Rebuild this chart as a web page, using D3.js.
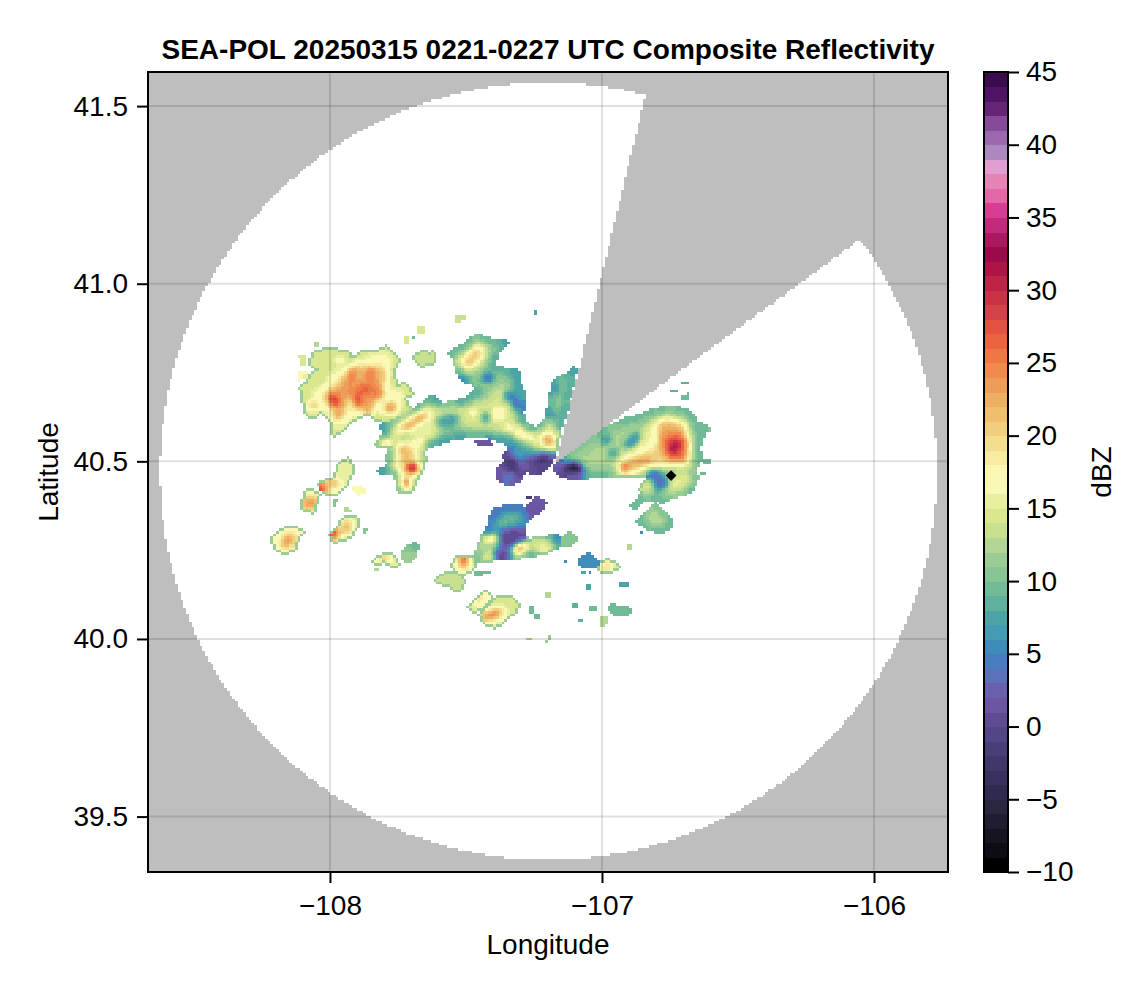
<!DOCTYPE html>
<html>
<head>
<meta charset="utf-8">
<script src="https://cdn.jsdelivr.net/npm/d3@7"></script>
<style>
  html, body { margin: 0; padding: 0; background: #fff; }
  text { font-family: "Liberation Sans", Arial, sans-serif; fill: #000; }
</style>
</head>
<body>
<div id="chart"></div>
<script>
const lonTicks = [-108, -107, -106];
const latTicks = [39.5, 40, 40.5, 41, 41.5];
const dbzTicks = [-10, -5, 0, 5, 10, 15, 20, 25, 30, 35, 40, 45];
const lonDomain = [-108.669, -105.728];
const latDomain = [39.344, 41.596];
const dbzDomain = [-10, 45];

// one colour per 1 dBZ bin, starting at -10
const binColors = [
  '#000000', '#0d0c14', '#151420', '#201d30', '#2a2640', '#302a4e', '#3a3160', '#423768', '#4b3e78', '#534586',
  '#5e4b92', '#6b56a2', '#6a60ae', '#5b71ba', '#4a7dbf', '#3f8cbb', '#449bb2', '#4da4a6', '#5fb09c', '#70ba97',
  '#87c595', '#9ccc95', '#b2d794', '#c8e08f', '#dbe78f', '#e8efa0', '#faf8b5', '#fbf8b4', '#f6eba0', '#f2dd90',
  '#f0ce7e', '#f0bf6e', '#edaf63', '#ee9d58', '#f28a4d', '#ee7845', '#ea643f', '#e25342', '#d5434a', '#c93346',
  '#bd2347', '#ad1545', '#9b0a4b', '#aa1862', '#c42a7c', '#d53e92', '#e268a8', '#e484b4', '#e09fd0', '#ac88bf',
  '#9c69ae', '#854a9a', '#662476', '#4f1466', '#3c0a4e'
];

// radar coverage, degrees
const coverageCenter = [-107.197, 40.472];
const coverageRadius = [1.428, 1.0936];
const blockedSector = [[-107.169, 40.496], [-106.776, 41.732], [-105.837, 41.246]];
const siteMarker = [-106.746, 40.46];

// reflectivity contours: [dBZ, [[lon, lat], ...]], later ones sit on top
const stormNorthwest = [
  [14, [[-108.11,40.71],[-108.08,40.72],[-108.07,40.74],[-108.04,40.76],[-108.07,40.77],[-108.06,40.805],[-108.00,40.815],[-107.93,40.805],[-107.92,40.785],[-107.87,40.81],[-107.82,40.81],[-107.79,40.82],[-107.75,40.785],[-107.77,40.755],[-107.76,40.71],[-107.72,40.715],[-107.70,40.69],[-107.73,40.675],[-107.70,40.645],[-107.72,40.63],[-107.77,40.62],[-107.79,40.61],[-107.83,40.62],[-107.86,40.635],[-107.91,40.62],[-107.95,40.59],[-107.99,40.575],[-107.99,40.61],[-108.03,40.64],[-108.07,40.62],[-108.09,40.645],[-108.10,40.69]]],
  [17, [[-108.07,40.693],[-108.025,40.716],[-108.00,40.749],[-107.93,40.768],[-107.90,40.786],[-107.84,40.80],[-107.79,40.805],[-107.77,40.786],[-107.79,40.749],[-107.78,40.702],[-107.74,40.702],[-107.725,40.678],[-107.75,40.664],[-107.725,40.646],[-107.77,40.632],[-107.82,40.632],[-107.86,40.646],[-107.91,40.632],[-107.95,40.603],[-107.975,40.589],[-107.99,40.613],[-108.02,40.65],[-108.06,40.636],[-108.07,40.664]]],
  [21, [[-108.01,40.702],[-107.95,40.74],[-107.92,40.768],[-107.865,40.772],[-107.80,40.768],[-107.785,40.74],[-107.82,40.693],[-107.82,40.674],[-107.855,40.641],[-107.90,40.636],[-107.927,40.655],[-107.957,40.627],[-107.982,40.617],[-108.00,40.655],[-108.03,40.674]]],
  [24, [[-108.00,40.688],[-107.957,40.716],[-107.927,40.749],[-107.896,40.753],[-107.896,40.72],[-107.865,40.758],[-107.84,40.763],[-107.816,40.73],[-107.81,40.702],[-107.84,40.669],[-107.878,40.65],[-107.908,40.664],[-107.945,40.66],[-107.976,40.646],[-107.994,40.664]]],
  [17, [[-107.936,40.678],[-107.914,40.683],[-107.914,40.626],[-107.933,40.631]]],
  [30, [[-108.006,40.683],[-107.975,40.683],[-107.969,40.659],[-108.0,40.659]]],
  [30, [[-107.908,40.692],[-107.884,40.687],[-107.884,40.659],[-107.908,40.659]]],
  [29, [[-107.884,40.706],[-107.853,40.706],[-107.853,40.694],[-107.884,40.694]]],
  [28, [[-107.831,40.706],[-107.806,40.701],[-107.816,40.678],[-107.835,40.683]]],
  [25, [[-108.08,40.666],[-108.051,40.666],[-108.051,40.647],[-108.076,40.647]]],
  [26, [[-107.982,40.64],[-107.957,40.64],[-107.957,40.617],[-107.976,40.617]]],
  [25, [[-107.798,40.659],[-107.755,40.664],[-107.767,40.631],[-107.792,40.631]]],
  [26, [[-107.875,40.65],[-107.847,40.654],[-107.847,40.634],[-107.871,40.634]]],
  [26, [[-107.871,40.762],[-107.835,40.762],[-107.835,40.739],[-107.871,40.739]]],
  [25, [[-107.933,40.762],[-107.902,40.762],[-107.908,40.734],[-107.939,40.729]]],
  [20, [[-107.978,40.79],[-107.951,40.79],[-107.951,40.774],[-107.978,40.774]]],
  [14, [[-108.115,40.80],[-108.085,40.80],[-108.085,40.77],[-108.11,40.77]]],
  [16, [[-108.12,40.755],[-108.085,40.755],[-108.08,40.735],[-108.115,40.725]]],
  [12, [[-108.06,40.84],[-108.04,40.84],[-108.035,40.825],[-108.06,40.825]]],
  [14, [[-107.73,40.85],[-107.71,40.855],[-107.705,40.83],[-107.73,40.825]]],
  [9, [[-107.70,40.855],[-107.685,40.855],[-107.685,40.845],[-107.70,40.845]]],
  [14, [[-107.685,40.875],[-107.645,40.885],[-107.645,40.865],[-107.68,40.855]]],
  [13, [[-107.695,40.79],[-107.66,40.81],[-107.635,40.80],[-107.615,40.81],[-107.615,40.78],[-107.64,40.775],[-107.67,40.77]]],
  [13, [[-107.54,40.915],[-107.505,40.915],[-107.495,40.895],[-107.54,40.89]]],
  [7, [[-107.245,40.925],[-107.235,40.925],[-107.235,40.915],[-107.245,40.915]]]
];

const stormCentral = [
  [7, [[-107.835,40.542],[-107.81,40.566],[-107.79,40.582],[-107.816,40.597],[-107.755,40.617],[-107.694,40.641],[-107.633,40.678],[-107.606,40.676],[-107.594,40.655],[-107.547,40.666],[-107.498,40.672],[-107.486,40.685],[-107.449,40.713],[-107.504,40.725],[-107.516,40.735],[-107.535,40.77],[-107.535,40.79],[-107.565,40.80],[-107.535,40.815],[-107.504,40.829],[-107.461,40.854],[-107.40,40.838],[-107.351,40.833],[-107.388,40.805],[-107.40,40.768],[-107.339,40.753],[-107.312,40.758],[-107.308,40.721],[-107.284,40.683],[-107.296,40.636],[-107.278,40.599],[-107.235,40.591],[-107.198,40.627],[-107.177,40.725],[-107.13,40.744],[-107.10,40.763],[-107.13,40.655],[-107.167,40.561],[-107.18,40.505],[-107.241,40.486],[-107.302,40.514],[-107.351,40.552],[-107.424,40.571],[-107.474,40.575],[-107.547,40.566],[-107.596,40.552],[-107.645,40.542],[-107.669,40.514],[-107.657,40.486],[-107.669,40.467],[-107.688,40.439],[-107.706,40.416],[-107.743,40.416],[-107.753,40.444],[-107.768,40.467],[-107.823,40.467],[-107.78,40.495],[-107.792,40.514],[-107.768,40.542],[-107.804,40.541]]],
  [11, [[-107.823,40.547],[-107.792,40.571],[-107.774,40.585],[-107.792,40.594],[-107.749,40.613],[-107.688,40.634],[-107.633,40.669],[-107.608,40.664],[-107.596,40.646],[-107.547,40.657],[-107.492,40.664],[-107.467,40.688],[-107.443,40.707],[-107.449,40.716],[-107.498,40.73],[-107.51,40.744],[-107.525,40.77],[-107.53,40.785],[-107.553,40.80],[-107.525,40.812],[-107.498,40.822],[-107.461,40.844],[-107.41,40.831],[-107.369,40.826],[-107.40,40.80],[-107.418,40.763],[-107.351,40.744],[-107.327,40.739],[-107.327,40.707],[-107.302,40.678],[-107.312,40.636],[-107.29,40.594],[-107.235,40.58],[-107.189,40.622],[-107.167,40.716],[-107.13,40.735],[-107.118,40.744],[-107.145,40.655],[-107.18,40.566],[-107.198,40.528],[-107.253,40.528],[-107.308,40.552],[-107.351,40.571],[-107.424,40.58],[-107.498,40.585],[-107.572,40.575],[-107.639,40.556],[-107.657,40.524],[-107.651,40.505],[-107.669,40.477],[-107.694,40.449],[-107.712,40.422],[-107.737,40.422],[-107.743,40.449],[-107.761,40.477],[-107.804,40.472],[-107.77,40.495],[-107.786,40.516],[-107.761,40.547],[-107.792,40.547]]],
  [15, [[-107.816,40.552],[-107.768,40.575],[-107.78,40.594],[-107.694,40.627],[-107.633,40.66],[-107.608,40.646],[-107.547,40.655],[-107.498,40.646],[-107.522,40.608],[-107.596,40.599],[-107.608,40.566],[-107.657,40.556],[-107.669,40.514],[-107.657,40.486],[-107.688,40.449],[-107.712,40.43],[-107.737,40.43],[-107.737,40.467],[-107.78,40.477],[-107.761,40.514],[-107.761,40.552]]],
  [7, [[-107.608,40.622],[-107.572,40.634],[-107.51,40.629],[-107.51,40.603],[-107.559,40.597],[-107.608,40.601]]],
  [7, [[-107.743,40.575],[-107.704,40.578],[-107.712,40.563],[-107.741,40.563]]],
  [5, [[-107.721,40.627],[-107.684,40.648],[-107.688,40.641],[-107.712,40.622]]],
  [23, [[-107.749,40.599],[-107.694,40.627],[-107.645,40.646],[-107.627,40.632],[-107.669,40.608],[-107.712,40.589],[-107.737,40.582]]],
  [22, [[-107.81,40.556],[-107.774,40.559],[-107.78,40.544],[-107.81,40.544]]],
  [23, [[-107.682,40.556],[-107.645,40.566],[-107.657,40.552],[-107.682,40.542]]],
  [19, [[-107.755,40.542],[-107.688,40.552],[-107.676,40.514],[-107.688,40.467],[-107.712,40.435],[-107.737,40.435],[-107.749,40.467],[-107.761,40.505]]],
  [34, [[-107.718,40.491],[-107.682,40.495],[-107.676,40.472],[-107.712,40.467]]],
  [33, [[-107.733,40.444],[-107.706,40.444],[-107.709,40.425],[-107.731,40.425]]],
  [26, [[-107.743,40.547],[-107.721,40.547],[-107.721,40.531],[-107.743,40.531]]],
  [27, [[-107.731,40.519],[-107.712,40.519],[-107.712,40.505],[-107.731,40.505]]],
  [14, [[-107.541,40.786],[-107.498,40.814],[-107.461,40.843],[-107.412,40.829],[-107.418,40.796],[-107.437,40.768],[-107.486,40.749],[-107.516,40.758]]],
  [17, [[-107.522,40.782],[-107.461,40.829],[-107.431,40.81],[-107.449,40.777],[-107.492,40.758],[-107.516,40.763]]],
  [22, [[-107.513,40.777],[-107.449,40.822],[-107.443,40.80],[-107.474,40.772],[-107.504,40.766]]],
  [14, [[-107.498,40.655],[-107.424,40.678],[-107.375,40.716],[-107.327,40.693],[-107.327,40.636],[-107.302,40.594],[-107.339,40.58],[-107.424,40.589],[-107.498,40.594],[-107.535,40.608]]],
  [19, [[-107.40,40.65],[-107.363,40.65],[-107.363,40.622],[-107.40,40.622]]],
  [19, [[-107.32,40.596],[-107.284,40.596],[-107.284,40.57],[-107.32,40.57]]],
  [18, [[-107.357,40.603],[-107.333,40.603],[-107.333,40.58],[-107.357,40.58]]],
  [18, [[-107.492,40.65],[-107.455,40.65],[-107.455,40.626],[-107.492,40.626]]],
  [2, [[-107.437,40.749],[-107.402,40.749],[-107.402,40.723],[-107.437,40.723]]],
  [2, [[-107.443,40.632],[-107.415,40.632],[-107.415,40.613],[-107.443,40.613]]],
  [15, [[-107.278,40.58],[-107.228,40.58],[-107.192,40.613],[-107.167,40.589],[-107.173,40.533],[-107.216,40.528],[-107.271,40.552]]],
  [18, [[-107.29,40.584],[-107.253,40.584],[-107.253,40.561],[-107.29,40.561]]],
  [23, [[-107.216,40.571],[-107.173,40.58],[-107.18,40.533],[-107.21,40.533]]],
  [30, [[-107.214,40.57],[-107.198,40.57],[-107.198,40.556],[-107.214,40.556]]],
  [3, [[-107.357,40.692],[-107.32,40.692],[-107.32,40.673],[-107.357,40.673]]],
  [0, [[-107.326,40.678],[-107.308,40.678],[-107.308,40.65],[-107.326,40.65]]],
  [0, [[-107.296,40.659],[-107.275,40.659],[-107.275,40.65],[-107.296,40.65]]],
  [2, [[-107.461,40.697],[-107.443,40.697],[-107.443,40.683],[-107.461,40.683]]],
  [1, [[-107.516,40.734],[-107.492,40.734],[-107.492,40.725],[-107.516,40.725]]],
  [0, [[-107.167,40.71],[-107.155,40.71],[-107.155,40.692],[-107.167,40.692]]],
  [-1, [[-107.186,40.637],[-107.173,40.637],[-107.173,40.626],[-107.186,40.626]]],
  [1, [[-107.382,40.477],[-107.351,40.50],[-107.363,40.514],[-107.339,40.524],[-107.327,40.557],[-107.302,40.514],[-107.253,40.514],[-107.189,40.528],[-107.192,40.495],[-107.228,40.467],[-107.259,40.467],[-107.284,40.477],[-107.302,40.449],[-107.339,40.435],[-107.382,40.453]]],
  [7, [[-107.327,40.542],[-107.284,40.514],[-107.302,40.486],[-107.327,40.486]]],
  [-2, [[-107.345,40.509],[-107.308,40.509],[-107.308,40.467],[-107.345,40.467]]],
  [6, [[-107.357,40.467],[-107.326,40.467],[-107.326,40.448],[-107.357,40.448]]],
  [-1, [[-107.247,40.514],[-107.198,40.524],[-107.194,40.495],[-107.228,40.469],[-107.251,40.486]]],
  [-6, [[-107.21,40.523],[-107.194,40.523],[-107.194,40.505],[-107.21,40.505]]],
  [-8, [[-107.329,40.5],[-107.317,40.5],[-107.317,40.493],[-107.329,40.493]]],
  [-7, [[-107.277,40.486],[-107.26,40.486],[-107.26,40.481],[-107.277,40.481]]],
  [1, [[-107.467,40.556],[-107.437,40.556],[-107.412,40.566],[-107.40,40.547],[-107.431,40.542],[-107.461,40.547]]]
];

const stormEast = [
  [9, [[-107.173,40.486],[-107.105,40.523],[-107.032,40.566],[-106.989,40.589],[-106.916,40.617],[-106.86,40.627],[-106.824,40.641],[-106.744,40.65],[-106.677,40.641],[-106.652,40.608],[-106.603,40.594],[-106.628,40.58],[-106.646,40.542],[-106.64,40.505],[-106.658,40.481],[-106.652,40.448],[-106.677,40.415],[-106.738,40.401],[-106.775,40.387],[-106.805,40.397],[-106.836,40.397],[-106.873,40.373],[-106.891,40.373],[-106.854,40.406],[-106.836,40.439],[-106.83,40.458],[-106.922,40.458],[-106.995,40.462],[-107.105,40.453],[-107.148,40.462]]],
  [12, [[-107.118,40.505],[-107.056,40.542],[-107.007,40.57],[-106.934,40.598],[-106.86,40.612],[-106.81,40.631],[-106.744,40.641],[-106.683,40.627],[-106.664,40.598],[-106.658,40.542],[-106.658,40.486],[-106.671,40.444],[-106.689,40.425],[-106.738,40.411],[-106.781,40.397],[-106.793,40.415],[-106.836,40.411],[-106.86,40.401],[-106.83,40.434],[-106.818,40.462],[-106.922,40.462],[-106.995,40.476],[-107.093,40.472]]],
  [16, [[-106.946,40.505],[-106.86,40.561],[-106.824,40.608],[-106.762,40.627],[-106.701,40.617],[-106.677,40.589],[-106.671,40.542],[-106.677,40.486],[-106.75,40.481],[-106.824,40.481],[-106.885,40.462],[-106.946,40.467]]],
  [15, [[-106.775,40.448],[-106.713,40.472],[-106.677,40.462],[-106.671,40.439],[-106.701,40.42],[-106.75,40.411],[-106.775,40.415]]],
  [14, [[-106.86,40.42],[-106.836,40.444],[-106.805,40.444],[-106.805,40.415],[-106.836,40.401]]],
  [4, [[-106.922,40.542],[-106.885,40.575],[-106.867,40.589],[-106.86,40.561],[-106.891,40.537]]],
  [1, [[-106.995,40.566],[-106.965,40.575],[-106.971,40.556],[-106.995,40.553]]],
  [3, [[-106.83,40.472],[-106.799,40.476],[-106.756,40.448],[-106.756,40.425],[-106.799,40.415],[-106.812,40.444],[-106.83,40.458]]],
  [1, [[-106.965,40.528],[-106.944,40.528],[-106.944,40.512],[-106.965,40.514]]],
  [20, [[-106.934,40.491],[-106.86,40.523],[-106.799,40.542],[-106.799,40.608],[-106.769,40.622],[-106.701,40.608],[-106.677,40.561],[-106.683,40.495],[-106.762,40.491],[-106.873,40.481],[-106.928,40.472]]],
  [23, [[-106.928,40.486],[-106.873,40.509],[-106.824,40.519],[-106.812,40.505],[-106.86,40.481],[-106.916,40.472]]],
  [23, [[-106.787,40.584],[-106.769,40.612],[-106.713,40.594],[-106.689,40.561],[-106.689,40.505],[-106.738,40.495],[-106.775,40.509],[-106.793,40.533]]],
  [27, [[-106.775,40.57],[-106.713,40.58],[-106.691,40.547],[-106.701,40.509],[-106.744,40.505],[-106.772,40.528]]],
  [32, [[-106.756,40.542],[-106.738,40.561],[-106.707,40.551],[-106.72,40.528],[-106.744,40.519]]],
  [33, [[-106.934,40.486],[-106.91,40.493],[-106.907,40.478],[-106.928,40.475]]],
  [1, [[-107.173,40.486],[-107.136,40.495],[-107.081,40.491],[-107.056,40.472],[-107.105,40.453],[-107.148,40.462],[-107.167,40.472]]],
  [-10, [[-107.136,40.486],[-107.105,40.497],[-107.081,40.491],[-107.081,40.472],[-107.112,40.476],[-107.136,40.475]]],
  [9, [[-106.867,40.331],[-106.805,40.381],[-106.756,40.345],[-106.744,40.317],[-106.781,40.303],[-106.836,40.312]]],
  [13, [[-106.848,40.334],[-106.805,40.369],[-106.769,40.34],[-106.769,40.317],[-106.812,40.322]]],
  [8, [[-106.707,40.722],[-106.677,40.722],[-106.677,40.713],[-106.707,40.713]]],
  [9, [[-106.711,40.683],[-106.677,40.695],[-106.677,40.678],[-106.701,40.664]]],
  [8, [[-106.747,40.702],[-106.723,40.702],[-106.723,40.692],[-106.747,40.692]]],
  [10, [[-106.63,40.594],[-106.593,40.597],[-106.603,40.58],[-106.628,40.58]]],
  [9, [[-106.628,40.509],[-106.603,40.509],[-106.603,40.495],[-106.628,40.495]]],
  [9, [[-106.634,40.467],[-106.622,40.467],[-106.622,40.46],[-106.634,40.46]]]
];

const stormSouth = [
  [4, [[-107.414,40.317],[-107.399,40.362],[-107.338,40.373],[-107.301,40.375],[-107.265,40.354],[-107.287,40.326],[-107.289,40.284],[-107.252,40.27],[-107.167,40.293],[-107.154,40.265],[-107.216,40.242],[-107.277,40.237],[-107.326,40.228],[-107.381,40.228],[-107.412,40.223],[-107.455,40.218],[-107.473,40.218],[-107.455,40.251],[-107.436,40.293]]],
  [9, [[-107.399,40.317],[-107.375,40.35],[-107.314,40.359],[-107.283,40.34],[-107.314,40.317],[-107.357,40.312],[-107.381,40.307]]],
  [12, [[-107.461,40.242],[-107.436,40.289],[-107.369,40.303],[-107.381,40.27],[-107.387,40.251],[-107.424,40.223],[-107.455,40.218]]],
  [22, [[-107.43,40.289],[-107.393,40.293],[-107.393,40.275],[-107.424,40.275]]],
  [22, [[-107.43,40.237],[-107.399,40.242],[-107.399,40.228],[-107.43,40.225]]],
  [0, [[-107.375,40.298],[-107.35,40.312],[-107.301,40.307],[-107.287,40.279],[-107.314,40.256],[-107.363,40.261],[-107.375,40.279]]],
  [0, [[-107.387,40.251],[-107.348,40.251],[-107.348,40.228],[-107.387,40.228]]],
  [13, [[-107.344,40.251],[-107.301,40.275],[-107.24,40.279],[-107.179,40.279],[-107.161,40.265],[-107.216,40.242],[-107.277,40.242],[-107.326,40.232]]],
  [17, [[-107.252,40.27],[-107.179,40.27],[-107.191,40.255],[-107.252,40.252]]],
  [30, [[-107.336,40.249],[-107.295,40.265],[-107.265,40.261],[-107.308,40.242]]],
  [10, [[-107.154,40.279],[-107.118,40.296],[-107.093,40.284],[-107.112,40.265],[-107.148,40.265]]],
  [1, [[-107.267,40.373],[-107.246,40.394],[-107.21,40.387],[-107.222,40.364],[-107.252,40.35],[-107.271,40.34]]],
  [-2, [[-107.28,40.402],[-107.26,40.405],[-107.265,40.395],[-107.278,40.393]]],
  [15, [[-107.553,40.209],[-107.528,40.232],[-107.473,40.232],[-107.473,40.2],[-107.51,40.181],[-107.54,40.19]]],
  [21, [[-107.534,40.218],[-107.491,40.228],[-107.485,40.2],[-107.516,40.187]]],
  [31, [[-107.528,40.223],[-107.504,40.228],[-107.497,40.212],[-107.516,40.209]]],
  [13, [[-107.605,40.165],[-107.577,40.185],[-107.534,40.181],[-107.51,40.167],[-107.522,40.139],[-107.546,40.139],[-107.559,40.157],[-107.589,40.157]]],
  [9, [[-107.473,40.19],[-107.442,40.19],[-107.442,40.174],[-107.473,40.174]]],
  [9, [[-107.436,40.192],[-107.412,40.192],[-107.412,40.182],[-107.436,40.182]]],
  [14, [[-107.491,40.087],[-107.467,40.106],[-107.436,40.134],[-107.409,40.125],[-107.418,40.101],[-107.461,40.082],[-107.479,40.08]]],
  [22, [[-107.473,40.092],[-107.43,40.125],[-107.418,40.118],[-107.467,40.09]]],
  [14, [[-107.448,40.068],[-107.412,40.092],[-107.381,40.12],[-107.338,40.115],[-107.301,40.096],[-107.326,40.073],[-107.363,40.049],[-107.393,40.035],[-107.436,40.049]]],
  [19, [[-107.436,40.068],[-107.387,40.096],[-107.357,40.092],[-107.344,40.073],[-107.387,40.049],[-107.43,40.054]]],
  [28, [[-107.442,40.065],[-107.393,40.082],[-107.369,40.073],[-107.4,40.059],[-107.43,40.054]]],
  [12, [[-107.213,40.12],[-107.197,40.134],[-107.179,40.125],[-107.197,40.112]]],
  [9, [[-107.265,40.092],[-107.25,40.092],[-107.25,40.071],[-107.265,40.071]]],
  [9, [[-107.246,40.071],[-107.23,40.071],[-107.23,40.056],[-107.246,40.056]]],
  [8, [[-107.105,40.101],[-107.093,40.101],[-107.093,40.084],[-107.105,40.084]]],
  [9, [[-107.05,40.094],[-107.022,40.094],[-107.022,40.08],[-107.05,40.08]]],
  [8, [[-107.087,40.059],[-107.069,40.059],[-107.069,40.048],[-107.087,40.048]]],
  [12, [[-107.014,40.059],[-106.977,40.064],[-106.983,40.04],[-107.001,40.031]]],
  [9, [[-106.971,40.096],[-106.934,40.087],[-106.903,40.09],[-106.897,40.073],[-106.928,40.068],[-106.965,40.078]]],
  [5, [[-107.072,40.232],[-107.038,40.234],[-107.014,40.209],[-107.056,40.204],[-107.083,40.212]]],
  [14, [[-107.014,40.209],[-106.983,40.221],[-106.946,40.209],[-106.934,40.2],[-106.971,40.192],[-107.008,40.195]]],
  [27, [[-106.995,40.209],[-106.965,40.212],[-106.965,40.2],[-106.995,40.2]]],
  [7, [[-107.059,40.157],[-107.04,40.157],[-107.04,40.139],[-107.059,40.139]]],
  [7, [[-106.934,40.159],[-106.903,40.159],[-106.903,40.148],[-106.934,40.148]]],
  [4, [[-107.05,40.192],[-107.034,40.192],[-107.034,40.187],[-107.05,40.187]]],
  [7, [[-107.079,40.19],[-107.063,40.19],[-107.063,40.184],[-107.079,40.184]]],
  [5, [[-107.136,40.223],[-107.13,40.223],[-107.13,40.214],[-107.136,40.214]]],
  [12, [[-107.282,40.007],[-107.259,40.007],[-107.259,39.996],[-107.282,39.996]]],
  [11, [[-107.197,40.009],[-107.185,40.009],[-107.185,39.998],[-107.197,39.998]]],
  [12, [[-107.213,39.998],[-107.203,39.998],[-107.203,39.989],[-107.213,39.989]]],
  [5, [[-106.863,40.307],[-106.851,40.307],[-106.851,40.295],[-106.863,40.295]]],
  [12, [[-106.906,40.266],[-106.89,40.266],[-106.89,40.254],[-106.906,40.254]]]
];

const stormWest = [
  [17, [[-108.206,40.284],[-108.183,40.303],[-108.147,40.313],[-108.098,40.303],[-108.122,40.28],[-108.135,40.252],[-108.171,40.242],[-108.202,40.256]]],
  [23, [[-108.183,40.27],[-108.153,40.298],[-108.128,40.294],[-108.153,40.256],[-108.177,40.256]]],
  [27, [[-108.165,40.27],[-108.147,40.289],[-108.141,40.275],[-108.153,40.261]]],
  [15, [[-108.104,40.364],[-108.085,40.416],[-108.039,40.411],[-108.055,40.378],[-108.061,40.359]]],
  [24, [[-108.092,40.374],[-108.079,40.406],[-108.051,40.402],[-108.067,40.369]]],
  [31, [[-108.092,40.383],[-108.073,40.383],[-108.073,40.374],[-108.088,40.374]]],
  [15, [[-108.037,40.439],[-107.981,40.453],[-107.963,40.495],[-107.926,40.505],[-107.92,40.467],[-107.945,40.43],[-107.975,40.406],[-108.006,40.411],[-108.03,40.416]]],
  [22, [[-108.03,40.435],[-107.981,40.449],[-107.953,40.449],[-107.969,40.425],[-108.018,40.416]]],
  [31, [[-108.034,40.432],[-108.022,40.432],[-108.024,40.42],[-108.034,40.42]]],
  [14, [[-107.92,40.43],[-107.89,40.436],[-107.863,40.416],[-107.896,40.404],[-107.92,40.416]]],
  [22, [[-107.908,40.42],[-107.89,40.428],[-107.877,40.416],[-107.896,40.409]]],
  [10, [[-107.99,40.392],[-107.972,40.392],[-107.978,40.372],[-107.987,40.372]]],
  [12, [[-107.957,40.364],[-107.939,40.378],[-107.92,40.359],[-107.951,40.357]]],
  [14, [[-108.002,40.294],[-107.957,40.322],[-107.951,40.345],[-107.902,40.345],[-107.896,40.322],[-107.914,40.303],[-107.926,40.289],[-107.981,40.275]]],
  [23, [[-107.994,40.294],[-107.963,40.308],[-107.945,40.336],[-107.92,40.331],[-107.92,40.303],[-107.939,40.294],[-107.963,40.298],[-107.981,40.282]]],
  [34, [[-107.99,40.298],[-107.969,40.308],[-107.969,40.287],[-107.985,40.284]]],
  [10, [[-107.883,40.308],[-107.859,40.31],[-107.865,40.30],[-107.883,40.298]]],
  [15, [[-107.84,40.219],[-107.804,40.238],[-107.767,40.233],[-107.752,40.209],[-107.779,40.209],[-107.804,40.219],[-107.828,40.209]]],
  [26, [[-107.834,40.219],[-107.798,40.233],[-107.767,40.219],[-107.804,40.225]]],
  [9, [[-107.733,40.252],[-107.681,40.27],[-107.687,40.233],[-107.718,40.216],[-107.73,40.223]]],
  [14, [[-107.724,40.242],[-107.693,40.252],[-107.7,40.233],[-107.718,40.223]]],
  [12, [[-107.834,40.197],[-107.822,40.197],[-107.822,40.188],[-107.834,40.188]]],
  [7, [[-107.914,40.495],[-107.898,40.495],[-107.898,40.488],[-107.914,40.488]]]
];

// layout
const svgWidth = 1146, svgHeight = 990;
const plot = {left: 148, right: 948, top: 72, bottom: 872};
const bar = {left: 984, right: 1008};

// heatmap cell size in degrees
const cellLon = 0.01, cellLat = 0.0075;
const rimDbz = 11;
// specks below this area (deg^2) get no rim, they would swell
const rimMinArea = 0.0012;

const x = d3.scaleLinear().domain(lonDomain).range([plot.left, plot.right]);
const y = d3.scaleLinear().domain(latDomain).range([plot.bottom, plot.top]);
const dbzScale = d3.scaleLinear().domain(dbzDomain).range([plot.bottom, plot.top]);

const svg = d3.select('#chart').append('svg')
  .attr('width', svgWidth)
  .attr('height', svgHeight)
  .style('display', 'block');

const filter = svg.append('defs').append('filter')
  .attr('id', 'soften')
  .attr('x', '0').attr('y', '0').attr('width', '1').attr('height', '1');
filter.append('feGaussianBlur').attr('stdDeviation', 0.55);

svg.append('rect')
  .attr('x', plot.left).attr('y', plot.top)
  .attr('width', plot.right - plot.left).attr('height', plot.bottom - plot.top)
  .attr('fill', '#bebebe');

function inCoverage(lon, lat) {
  const dx = (lon - coverageCenter[0]) / coverageRadius[0];
  const dy = (lat - coverageCenter[1]) / coverageRadius[1];
  return dx * dx + dy * dy <= 1 && !d3.polygonContains(blockedSector, [lon, lat]);
}

function cellRect(x0, x1, y0, y1) {
  return `M${x0},${y0}H${x1}V${y1}H${x0}Z`;
}

// white disc: one rect per run of scanned cells
const nCols = Math.ceil((lonDomain[1] - lonDomain[0]) / cellLon);
const nRows = Math.ceil((latDomain[1] - latDomain[0]) / cellLat);
let coveragePath = '';
for (let j = 0; j < nRows; j++) {
  const lat = latDomain[0] + (j + 0.5) * cellLat;
  let start = -1;
  for (let i = 0; i <= nCols; i++) {
    const inside = i < nCols && inCoverage(lonDomain[0] + (i + 0.5) * cellLon, lat);
    if (inside && start < 0) start = i;
    if (!inside && start >= 0) {
      coveragePath += cellRect(x(lonDomain[0] + start * cellLon), x(lonDomain[0] + i * cellLon),
        y(latDomain[0] + (j + 1) * cellLat), y(latDomain[0] + j * cellLat));
      start = -1;
    }
  }
}
svg.append('path')
  .attr('d', coveragePath)
  .attr('fill', '#fff')
  .attr('shape-rendering', 'crispEdges')
  .attr('filter', 'url(#soften)');

// rasterize the contours onto the cell grid
let grid = new Float32Array(nCols * nRows).fill(NaN);
const rimSource = new Uint8Array(nCols * nRows);
[stormNorthwest, stormCentral, stormEast, stormSouth, stormWest].forEach(storm => {
  storm.forEach(([dbz, poly]) => {
    const big = Math.abs(d3.polygonArea(poly)) >= rimMinArea;
    const i0 = Math.floor((d3.min(poly, p => p[0]) - lonDomain[0]) / cellLon);
    const i1 = Math.ceil((d3.max(poly, p => p[0]) - lonDomain[0]) / cellLon);
    const j0 = Math.floor((d3.min(poly, p => p[1]) - latDomain[0]) / cellLat);
    const j1 = Math.ceil((d3.max(poly, p => p[1]) - latDomain[0]) / cellLat);
    for (let j = j0; j <= j1; j++) {
      for (let i = i0; i <= i1; i++) {
        const lon = lonDomain[0] + (i + 0.5) * cellLon;
        const lat = latDomain[0] + (j + 0.5) * cellLat;
        if (d3.polygonContains(poly, [lon, lat]) && inCoverage(lon, lat)) {
          grid[j * nCols + i] = dbz;
          if (big) rimSource[j * nCols + i] = 1;
        }
      }
    }
  });
});

// the field is smooth in the reference, contours alone look terraced
function smooth(src) {
  const out = new Float32Array(src.length).fill(NaN);
  for (let j = 1; j < nRows - 1; j++) {
    for (let i = 1; i < nCols - 1; i++) {
      if (isNaN(src[j * nCols + i])) continue;
      let sum = 0, n = 0;
      for (let b = -1; b <= 1; b++) {
        for (let a = -1; a <= 1; a++) {
          const v = src[(j + b) * nCols + i + a];
          if (!isNaN(v)) { sum += v; n++; }
        }
      }
      out[j * nCols + i] = sum / n;
    }
  }
  return out;
}
grid = smooth(smooth(grid));

// one cell of weak echo round every storm
const binPaths = binColors.map(() => '');
function addCell(i, j, v) {
  const bin = Math.max(0, Math.min(binColors.length - 1, Math.floor(v - dbzDomain[0])));
  binPaths[bin] += cellRect(x(lonDomain[0] + i * cellLon), x(lonDomain[0] + (i + 1) * cellLon),
    y(latDomain[0] + (j + 1) * cellLat), y(latDomain[0] + j * cellLat));
}
for (let j = 1; j < nRows - 1; j++) {
  for (let i = 1; i < nCols - 1; i++) {
    const v = grid[j * nCols + i];
    if (!isNaN(v)) { addCell(i, j, v); continue; }
    let low = Infinity;
    [[1, 0], [-1, 0], [0, 1], [0, -1]].forEach(([a, b]) => {
      const k = (j + b) * nCols + i + a;
      if (rimSource[k] && !isNaN(grid[k])) low = Math.min(low, grid[k]);
    });
    const lon = lonDomain[0] + (i + 0.5) * cellLon;
    const lat = latDomain[0] + (j + 0.5) * cellLat;
    if (low < Infinity && inCoverage(lon, lat)) addCell(i, j, Math.min(low, rimDbz));
  }
}
svg.append('g')
  .attr('filter', 'url(#soften)')
  .selectAll('path')
  .data(binColors)
  .join('path')
    .attr('d', (d, i) => binPaths[i])
    .attr('fill', d => d)
    .attr('shape-rendering', 'crispEdges');

// site marker
svg.append('path')
  .attr('d', d3.symbol(d3.symbolDiamond2, 75)())
  .attr('transform', `translate(${x(siteMarker[0])},${y(siteMarker[1])})`)
  .attr('fill', '#000');

// grid lines are on top of the field
svg.append('g').selectAll('line')
  .data(lonTicks)
  .join('line')
    .attr('x1', d => x(d)).attr('x2', d => x(d))
    .attr('y1', plot.top).attr('y2', plot.bottom);
svg.append('g').selectAll('line')
  .data(latTicks)
  .join('line')
    .attr('y1', d => y(d)).attr('y2', d => y(d))
    .attr('x1', plot.left).attr('x2', plot.right);
svg.selectAll('g line').attr('stroke', 'rgba(0,0,0,0.12)').attr('stroke-width', 2);

// spines
svg.append('rect')
  .attr('x', plot.left).attr('y', plot.top)
  .attr('width', plot.right - plot.left).attr('height', plot.bottom - plot.top)
  .attr('fill', 'none').attr('stroke', '#000').attr('stroke-width', 2);

function styleAxis(g) {
  g.select('.domain').remove();
  g.selectAll('.tick line').attr('stroke', '#000').attr('stroke-width', 2);
  g.selectAll('.tick text').attr('font-size', 28).attr('fill', '#000')
    .attr('font-family', '"Liberation Sans", Arial, sans-serif');
}

svg.append('g')
  .attr('transform', `translate(0,${plot.bottom})`)
  .call(d3.axisBottom(x).tickValues(lonTicks).tickSize(11).tickPadding(12).tickFormat(d3.format('d')))
  .call(styleAxis);

svg.append('g')
  .attr('transform', `translate(${plot.left},0)`)
  .call(d3.axisLeft(y).tickValues(latTicks).tickSize(11).tickPadding(9).tickFormat(d3.format('.1f')))
  .call(styleAxis);

// colorbar
svg.append('g')
  .attr('shape-rendering', 'crispEdges')
  .selectAll('rect')
  .data(binColors)
  .join('rect')
    .attr('x', bar.left)
    .attr('width', bar.right - bar.left)
    .attr('y', (d, i) => dbzScale(dbzDomain[0] + i + 1))
    .attr('height', (d, i) => dbzScale(dbzDomain[0] + i) - dbzScale(dbzDomain[0] + i + 1) + 0.5)
    .attr('fill', d => d);

svg.append('rect')
  .attr('x', bar.left).attr('y', plot.top)
  .attr('width', bar.right - bar.left).attr('height', plot.bottom - plot.top)
  .attr('fill', 'none').attr('stroke', '#000').attr('stroke-width', 2);

svg.append('g')
  .attr('transform', `translate(${bar.right},0)`)
  .call(d3.axisRight(dbzScale).tickValues(dbzTicks).tickSize(11).tickPadding(7).tickFormat(d3.format('d')))
  .call(styleAxis);

// titles
svg.append('text')
  .attr('x', (plot.left + plot.right) / 2).attr('y', 59)
  .attr('text-anchor', 'middle')
  .attr('font-size', 28).attr('font-weight', 'bold')
  .text('SEA-POL 20250315 0221-0227 UTC Composite Reflectivity');

svg.append('text')
  .attr('x', (plot.left + plot.right) / 2).attr('y', 954)
  .attr('text-anchor', 'middle')
  .attr('font-size', 28)
  .text('Longitude');

svg.append('text')
  .attr('transform', `translate(58,${(plot.top + plot.bottom) / 2}) rotate(-90)`)
  .attr('text-anchor', 'middle')
  .attr('font-size', 28)
  .text('Latitude');

svg.append('text')
  .attr('transform', `translate(1111,${(plot.top + plot.bottom) / 2}) rotate(-90)`)
  .attr('text-anchor', 'middle')
  .attr('font-size', 28)
  .text('dBZ');
</script>
</body>
</html>
